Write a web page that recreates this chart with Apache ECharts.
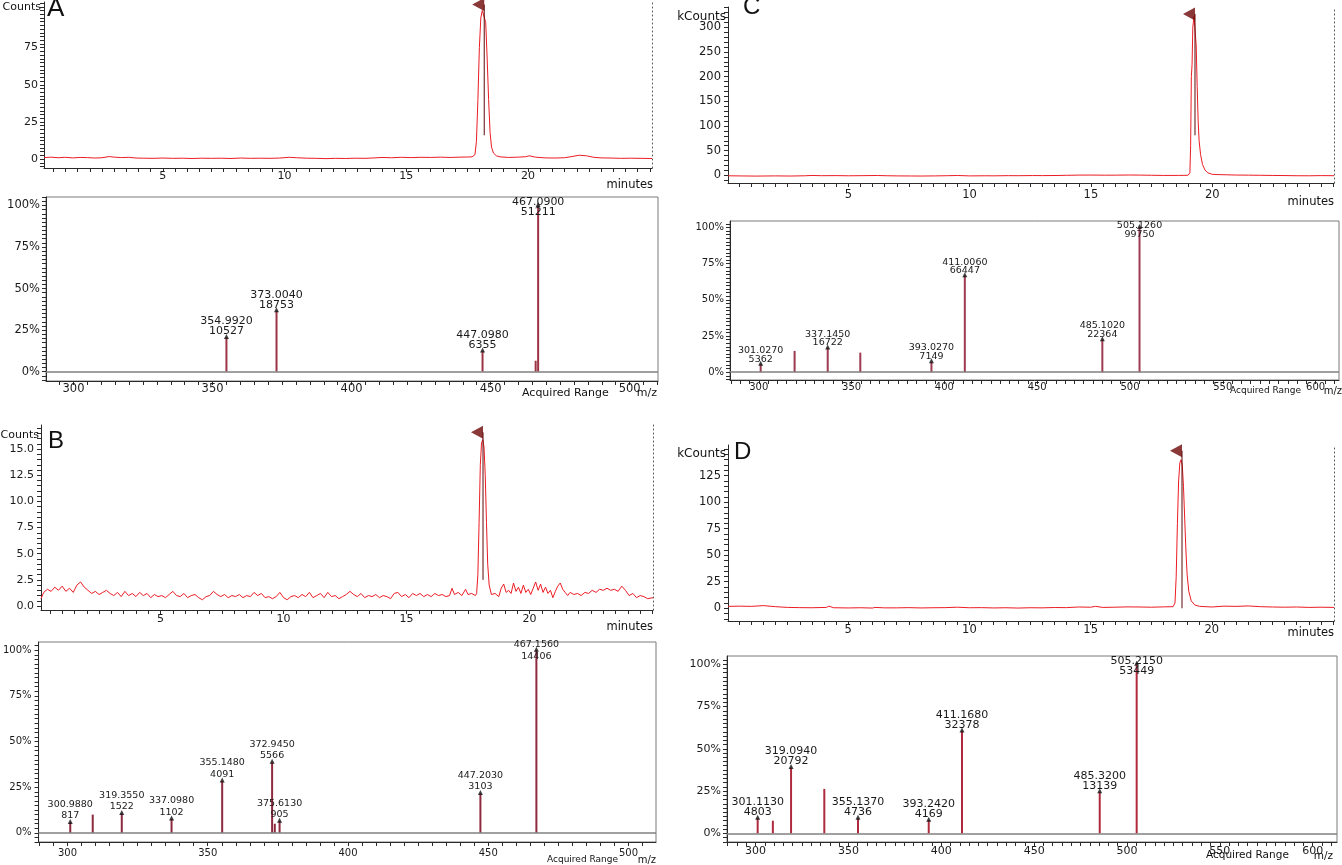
<!DOCTYPE html>
<html><head><meta charset="utf-8">
<script src="https://cdn.jsdelivr.net/npm/echarts@6/dist/echarts.min.js"></script>
<style>html,body{margin:0;padding:0;background:#fff}#c{width:1342px;height:865px}</style>
</head><body><div id="c"></div>
<script>
// ================= DATA =================
// Chromatograms: [minutes, intensity]
const chromA = [[0.12,1.0],[0.4,1.3],[0.7,0.9],[1.0,1.2],[1.3,0.8],[1.6,1.1],[1.9,1.0],[2.2,0.7],[2.5,0.9],[2.8,1.7],[3.0,1.3],[3.3,1.0],[3.6,1.2],[3.9,0.7],[4.2,0.6],[4.6,0.5],[5.0,0.7],[5.4,0.5],[5.8,0.6],[6.2,0.4],[6.6,0.6],[7.0,0.5],[7.4,0.6],[7.8,0.4],[8.2,0.7],[8.6,0.5],[9.0,0.6],[9.4,0.5],[9.8,0.7],[10.2,1.2],[10.5,0.9],[10.9,0.6],[11.3,0.5],[11.7,0.3],[12.1,0.5],[12.5,0.4],[12.9,0.6],[13.3,0.5],[13.7,0.8],[14.0,1.1],[14.4,0.9],[14.8,1.2],[15.2,1.0],[15.6,1.2],[16.0,1.1],[16.4,1.3],[16.8,1.1],[17.2,1.3],[17.5,1.4],[17.7,1.5],[17.82,3],[17.88,12],[17.94,40],[18.0,75],[18.06,95],[18.12,100],[18.2,100.5],[18.26,92],[18.32,68],[18.38,40],[18.44,18],[18.5,8],[18.58,4],[18.7,2.2],[18.85,1.5],[19.2,1.1],[19.6,1.3],[19.9,1.6],[20.05,2.2],[20.3,1.3],[20.7,0.8],[21.1,0.7],[21.5,0.9],[21.8,1.7],[22.1,2.6],[22.4,2.2],[22.7,1.2],[23.0,0.8],[23.4,0.7],[23.8,0.5],[24.2,0.6],[24.6,0.5],[25.09,0.4]];
const chromB = [[0.14,0.7],[0.25,1.3],[0.4,1.6],[0.55,1.4],[0.7,1.8],[0.85,1.5],[1.0,1.9],[1.15,1.4],[1.3,1.7],[1.45,1.3],[1.6,2.0],[1.75,2.3],[1.9,1.8],[2.05,1.5],[2.2,1.2],[2.35,1.4],[2.5,1.1],[2.65,1.3],[2.8,1.5],[2.95,1.2],[3.1,1.0],[3.25,1.3],[3.4,0.9],[3.55,1.4],[3.7,1.0],[3.85,1.2],[4.0,0.9],[4.15,1.3],[4.3,1.0],[4.45,1.2],[4.6,0.8],[4.75,1.1],[4.9,0.9],[5.05,1.0],[5.2,0.8],[5.35,1.1],[5.5,1.4],[5.65,1.0],[5.8,0.9],[5.95,1.2],[6.1,0.8],[6.25,1.0],[6.4,1.1],[6.55,0.8],[6.7,0.6],[6.85,0.9],[7.0,1.0],[7.15,1.4],[7.3,1.1],[7.45,0.9],[7.6,1.1],[7.75,0.8],[7.9,1.0],[8.05,0.9],[8.2,1.1],[8.35,0.8],[8.5,1.0],[8.65,0.9],[8.8,1.3],[8.95,1.0],[9.1,1.2],[9.25,0.8],[9.4,0.9],[9.55,0.7],[9.7,0.9],[9.85,1.3],[10.0,0.8],[10.15,0.6],[10.3,0.9],[10.45,1.0],[10.6,0.8],[10.75,1.1],[10.9,0.9],[11.05,1.3],[11.2,0.8],[11.35,1.0],[11.5,1.2],[11.65,0.8],[11.8,1.3],[11.95,0.9],[12.1,1.0],[12.25,0.7],[12.4,0.9],[12.55,1.1],[12.7,1.4],[12.85,1.1],[13.0,0.9],[13.15,1.2],[13.3,0.8],[13.45,1.0],[13.6,0.9],[13.75,1.1],[13.9,0.8],[14.05,1.0],[14.2,0.9],[14.35,0.7],[14.5,1.2],[14.65,1.3],[14.8,0.9],[14.95,1.1],[15.1,0.8],[15.25,1.2],[15.4,1.0],[15.55,1.2],[15.7,0.9],[15.85,1.1],[16.0,0.9],[16.15,1.2],[16.3,1.0],[16.45,1.1],[16.6,0.9],[16.75,1.0],[16.85,1.7],[16.95,1.1],[17.1,1.3],[17.25,1.0],[17.4,1.6],[17.5,1.1],[17.65,1.2],[17.8,1.0],[17.85,1.2],[17.9,3],[17.95,8],[18.0,13.5],[18.05,15.6],[18.1,15.9],[18.15,15.2],[18.2,12.5],[18.25,8],[18.3,4],[18.36,2],[18.45,1.1],[18.6,1.2],[18.75,0.9],[18.85,1.7],[18.95,2.1],[19.05,1.3],[19.15,1.5],[19.25,1.2],[19.35,2.2],[19.45,1.4],[19.55,1.8],[19.65,1.2],[19.75,2.0],[19.85,1.3],[19.95,1.6],[20.05,1.1],[20.15,1.7],[20.25,2.3],[20.35,1.5],[20.45,2.1],[20.55,1.3],[20.65,1.8],[20.75,1.2],[20.85,1.5],[20.95,0.8],[21.05,1.4],[21.15,1.9],[21.25,2.2],[21.35,1.6],[21.45,1.3],[21.55,1.0],[21.65,1.3],[21.8,1.1],[21.95,1.2],[22.1,1.0],[22.25,1.3],[22.4,1.2],[22.55,1.5],[22.7,1.3],[22.85,1.6],[23.0,1.5],[23.15,1.7],[23.3,1.5],[23.45,1.6],[23.6,1.4],[23.75,1.9],[23.9,1.5],[24.05,1.0],[24.2,1.2],[24.35,0.8],[24.5,1.0],[24.65,0.9],[24.8,0.7],[25.02,0.8]];
const chromC = [[0.04,-1.0],[0.6,-1.3],[1.2,-1.6],[2,-1.2],[2.6,-1.5],[3.2,-1.0],[3.5,-0.3],[3.9,-0.8],[4.5,-0.6],[5,-1.0],[5.6,-0.7],[6.2,-0.4],[6.6,-0.9],[7,-1.2],[7.6,-1.4],[8,-1.5],[8.6,-1.2],[9.1,-0.8],[9.5,-0.4],[10,-1.2],[10.6,-1.0],[11,-1.1],[11.6,-0.7],[12,-0.8],[12.6,-0.5],[13,-0.6],[13.6,-0.4],[14,0],[14.5,0.4],[15,0.5],[15.6,0.2],[16,0.3],[16.6,0.6],[17,0.4],[17.5,0.1],[18,-0.3],[18.6,-0.2],[19.0,0],[19.08,5],[19.11,60],[19.14,200],[19.17,225],[19.2,300],[19.25,322],[19.3,318],[19.34,262],[19.38,180],[19.42,110],[19.46,70],[19.52,42],[19.6,22],[19.7,11],[19.82,5],[20.0,2],[20.2,1.5],[20.6,1.0],[21,0.5],[21.5,0.3],[22,0],[22.5,-0.3],[23,-0.5],[23.5,-0.9],[24,-1.0],[24.5,-0.6],[25.02,-0.8]];
const chromD = [[0.04,1.8],[0.5,2.0],[1,1.8],[1.5,2.5],[2,1.5],[2.5,0.8],[3,0.6],[3.5,0.5],[4.1,0.8],[4.2,2.0],[4.4,0.5],[5,0.3],[5.5,0.5],[6,0.2],[6.1,0.8],[6.5,0.4],[7,0.4],[7.5,0.6],[8,0.3],[8.5,0.5],[9,0.6],[9.5,1.0],[10,0.5],[10.5,0.6],[11,0.3],[11.5,0.5],[12,0.2],[12.5,0.5],[13,0.4],[13.5,0.7],[14,0.6],[14.5,1.2],[15,1.0],[15.2,1.8],[15.5,0.8],[16,1.0],[16.5,1.3],[17,1.2],[17.5,1.0],[18,1.3],[18.4,1.5],[18.48,5],[18.53,30],[18.58,80],[18.63,120],[18.68,137],[18.73,140],[18.78,135],[18.83,115],[18.88,85],[18.93,55],[18.98,32],[19.05,16],[19.15,7],[19.3,3],[19.5,1.8],[20,1.2],[20.5,2.0],[21,1.8],[21.5,2.2],[22,1.5],[22.5,1.2],[23,1.0],[23.5,1.2],[24,0.8],[24.5,1.0],[25.04,0.8]];

// Retention-time marker: [rt, marker top, inner line bottom]
const rtA = [18.2, 104, 16];
const rtB = [18.11, 16.6, 2.5];
const rtC = [19.29, 327, 81];
const rtD = [18.77, 148.5, 0];

// Mass spectra
const specA_mz  = [354.992, 373.004, 447.098, 466.2, 467.090];
const specA_pct = [20.6, 36.6, 12.4, 6.6, 100];
const specA_lab = ['354.9920','373.0040','447.0980','','467.0900'];
const specA_int = ['10527','18753','6355','','51211'];

const specB_mz  = [300.988, 309.0, 319.355, 337.098, 355.148, 372.945, 373.9, 375.613, 447.203, 467.156];
const specB_pct = [5.7, 10.0, 10.6, 7.6, 28.4, 38.6, 5.0, 6.3, 21.5, 100];
const specB_lab = ['300.9880','','319.3550','337.0980','355.1480','372.9450','','375.6130','447.2030','467.1560'];
const specB_int = ['817','','1522','1102','4091','5566','','905','3103','14406'];

const specC_mz  = [301.027, 319.3, 337.145, 354.7, 393.027, 411.006, 485.102, 505.126];
const specC_pct = [5.4, 14.7, 16.8, 13.5, 7.2, 66.6, 22.4, 100];
const specC_lab = ['301.0270','','337.1450','','393.0270','411.0060','485.1020','505.1260'];
const specC_int = ['5362','','16722','','7149','66447','22364','99750'];

const specD_mz  = [301.113, 309.3, 319.094, 337.0, 355.137, 393.242, 411.168, 485.320, 505.215];
const specD_pct = [9.0, 7.5, 38.9, 26.3, 8.9, 7.8, 60.6, 24.6, 100];
const specD_lab = ['301.1130','','319.0940','','355.1370','393.2420','411.1680','485.3200','505.2150'];
const specD_int = ['4803','','20792','','4736','4169','32378','13139','53449'];

// Tick labels
const chromXLabels = [5, 10, 15, 20];
const chromAYLabels = [0, 25, 50, 75];
const chromBYLabels = [0, 2.5, 5, 7.5, 10, 12.5, 15];
const chromCYLabels = [0, 50, 100, 150, 200, 250, 300];
const chromDYLabels = [0, 25, 50, 75, 100, 125];
const specXLabelsAB = [300, 350, 400, 450, 500];
const specXLabelsCD = [300, 350, 400, 450, 500, 550, 600];
const specYLabels = [0, 25, 50, 75, 100];

// ================= BUILD =================
const FONT = 'DejaVu Sans';
const grids = [], xAxes = [], yAxes = [], series = [], graphics = [];

function rng(a, b, s) { const out = []; const n = Math.round((b - a) / s); for (let k = 0; k <= n; k++) out.push(+(a + k * s).toFixed(6)); return out; }
function ticksWithin(min, max, step) { return rng(Math.ceil(min / step - 1e-9) * step, Math.floor(max / step + 1e-9) * step, step); }

function xAxisDef(gi, min, max, labels, step, fs, margin) {
  return { type: 'value', gridIndex: gi, min, max, position: 'bottom',
    axisLine: { show: true, onZero: false, lineStyle: { color: '#2a2a2a', width: 1 } },
    axisTick: { show: true, customValues: ticksWithin(min, max, step), length: 4, lineStyle: { color: '#2a2a2a', width: 1 } },
    axisLabel: { show: true, customValues: labels, color: '#1a1a1a', fontFamily: FONT, fontSize: fs, margin },
    splitLine: { show: false } };
}
function yAxisDef(gi, min, max, labels, step, fs, margin, fmt) {
  return { type: 'value', gridIndex: gi, min, max, position: 'left',
    axisLine: { show: true, onZero: false, lineStyle: { color: '#2a2a2a', width: 1 } },
    axisTick: { show: true, customValues: ticksWithin(min, max, step), length: 4, lineStyle: { color: '#2a2a2a', width: 1 } },
    axisLabel: { show: true, customValues: labels, color: '#1a1a1a', fontFamily: FONT, fontSize: fs, margin, formatter: fmt },
    splitLine: { show: false } };
}

function chromPanel(p, data, rt, yLabels) {
  const gi = grids.push({ left: p.box[0], top: p.box[1], width: p.box[2] - p.box[0], height: p.box[3] - p.box[1], show: false }) - 1;
  const xi = xAxes.push(xAxisDef(gi, p.x[0], p.x[1], chromXLabels, 0.5, p.fs, p.xm)) - 1;
  const yi = yAxes.push(yAxisDef(gi, p.y[0], p.y[1], yLabels, p.yStep, p.fs, p.ym, p.fmt)) - 1;
  yAxes.push({ type: 'value', gridIndex: gi, min: p.y[0], max: p.y[1], position: 'right',
    axisLine: { show: true, onZero: false, lineStyle: { color: '#555', width: 1, type: [1, 3] } },
    axisTick: { show: false }, axisLabel: { show: false }, splitLine: { show: false } });
  series.push({ type: 'line', xAxisIndex: xi, yAxisIndex: yi, data: data, symbol: 'none', showSymbol: false,
    lineStyle: { color: '#ec1c24', width: 1 }, clip: true, silent: true, z: 3 });
  series.push({ type: 'line', xAxisIndex: xi, yAxisIndex: yi, data: [[rt[0], rt[1]], [rt[0], rt[2]]], symbol: 'none',
    lineStyle: { color: '#5a0808', width: 1 }, silent: true, z: 4 });
  series.push({ type: 'scatter', xAxisIndex: xi, yAxisIndex: yi, data: [[rt[0], rt[1]]], symbol: 'triangle',
    symbolRotate: 90, symbolSize: [13, 12], symbolOffset: [-6, 0], itemStyle: { color: '#6e0606' }, silent: true, z: 5 });
}

function specPanel(p, mz, pct, lab, ints, xLabels) {
  const gi = grids.push({ left: p.box[0], top: p.box[1], width: p.box[2] - p.box[0], height: p.box[3] - p.box[1],
    show: true, borderColor: '#7a7a7a', borderWidth: 1, backgroundColor: 'transparent' }) - 1;
  const xi = xAxes.push(xAxisDef(gi, p.x[0], p.x[1], xLabels, 5, p.fs, p.xm)) - 1;
  const yi = yAxes.push(yAxisDef(gi, p.y[0], p.y[1], specYLabels, 2.5, p.fs, p.ym, v => v + '%')) - 1;
  const data = mz.map((m, k) => ({ value: [m, pct[k]],
    label: lab[k] ? { show: true, formatter: lab[k] + '\n' + ints[k], offset: pct[k] >= 100 ? [0, p.baseOff] : [0, 0] } : { show: false } }));
  series.push({ type: 'bar', xAxisIndex: xi, yAxisIndex: yi, data, barWidth: 2, itemStyle: { color: p.color },
    label: { position: 'top', distance: 1, color: '#1a1a1a', fontFamily: FONT, fontSize: p.lfs, lineHeight: p.lh },
    markLine: { silent: true, symbol: 'none', label: { show: false }, lineStyle: { color: '#808080', width: 1.5, type: 'solid' }, data: [{ yAxis: 0 }] },
    silent: true, z: 3 });
  const arrows = mz.map((m, k) => lab[k] ? [m, pct[k]] : null).filter(Boolean);
  series.push({ type: 'scatter', xAxisIndex: xi, yAxisIndex: yi, data: arrows, symbol: 'triangle', symbolSize: [5, 5],
    symbolOffset: [0, -1], itemStyle: { color: '#111' }, silent: true, z: 5 });
}

function txt(x, y, text, size, align, family) {
  graphics.push({ type: 'text', x, y, silent: true, z: 100,
    style: { text, fill: '#111', fontSize: size, fontFamily: family || FONT, align: align || 'left', verticalAlign: 'middle' } });
}

// Panel A
chromPanel({ box: [44, 2, 652, 168], x: [0.12, 25.09], y: [-6.0, 105.7], yStep: 2.5, fs: 11, xm: 3, ym: 6, fmt: v => String(v) }, chromA, rtA, chromAYLabels);
specPanel({ box: [46, 197, 658, 381], x: [290.1, 510.2], y: [-5.6, 105.1], fs: 11.5, xm: 2, ym: 6, lfs: 11, lh: 10, baseOff: 13, color: '#9c3446' }, specA_mz, specA_pct, specA_lab, specA_int, specXLabelsAB);
// Panel B
chromPanel({ box: [41, 425, 653, 610], x: [0.14, 25.02], y: [-0.38, 17.3], yStep: 0.5, fs: 11, xm: 4, ym: 7, fmt: v => v.toFixed(1) }, chromB, rtB, chromBYLabels);
specPanel({ box: [38, 642, 656, 842], x: [289.7, 509.8], y: [-5.0, 104.5], fs: 10, xm: 6, ym: 7, lfs: 9.5, lh: 11.5, baseOff: 13, color: '#8e2a3e' }, specB_mz, specB_pct, specB_lab, specB_int, specXLabelsAB);
// Panel C
chromPanel({ box: [728, 7, 1334, 183], x: [0.04, 25.02], y: [-15.6, 341], yStep: 10, fs: 11.5, xm: 6, ym: 7, fmt: v => String(v) }, chromC, rtC, chromCYLabels);
specPanel({ box: [730, 221, 1339, 380], x: [284.5, 612.6], y: [-5.4, 104.5], fs: 10, xm: 2, ym: 6, lfs: 9.5, lh: 8.5, baseOff: 12, color: '#9e3a52' }, specC_mz, specC_pct, specC_lab, specC_int, specXLabelsCD);
// Panel D
chromPanel({ box: [728, 445, 1334, 621], x: [0.04, 25.04], y: [-12.0, 153.9], yStep: 5, fs: 11.5, xm: 3, ym: 7, fmt: v => String(v) }, chromD, rtD, chromDYLabels);
specPanel({ box: [727, 656, 1337, 842], x: [284.6, 613.1], y: [-5.1, 104.9], fs: 11, xm: 4, ym: 6, lfs: 11, lh: 10, baseOff: 13, color: '#b02a3e' }, specD_mz, specD_pct, specD_lab, specD_int, specXLabelsCD);

// Panel letters and axis titles
txt(47, 9, 'A', 26, 'left', 'Liberation Sans');
txt(48, 441, 'B', 24, 'left', 'Liberation Sans');
txt(743, 7, 'C', 24, 'left', 'Liberation Sans');
txt(734, 452, 'D', 24, 'left', 'Liberation Sans');
txt(41, 7, 'Counts', 11, 'right');
txt(39, 435, 'Counts', 11, 'right');
txt(726, 17, 'kCounts', 12, 'right');
txt(726, 454, 'kCounts', 12, 'right');
txt(653, 185, 'minutes', 11.5, 'right');
txt(653, 627, 'minutes', 11.5, 'right');
txt(1334, 202, 'minutes', 11.5, 'right');
txt(1334, 633, 'minutes', 11.5, 'right');
txt(522, 393, 'Acquired Range', 11, 'left');
txt(657, 393, 'm/z', 11, 'right');
txt(547, 860, 'Acquired Range', 9, 'left');
txt(656, 860, 'm/z', 10, 'right');
txt(1230, 391, 'Acquired Range', 9, 'left');
txt(1342, 391, 'm/z', 10, 'right');
txt(1206, 855, 'Acquired Range', 10.5, 'left');
txt(1333, 856, 'm/z', 10.5, 'right');

const chart = echarts.init(document.getElementById('c'), null, { renderer: 'canvas' });
chart.setOption({ animation: false, backgroundColor: '#fff', textStyle: { fontFamily: FONT },
  grid: grids, xAxis: xAxes, yAxis: yAxes, series, graphic: graphics });
</script>
</body></html>
